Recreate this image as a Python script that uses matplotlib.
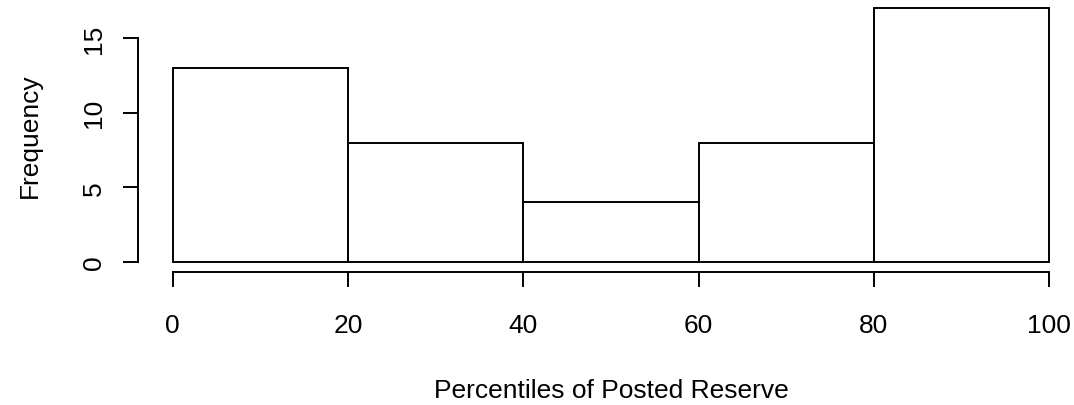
import numpy as np
import matplotlib.pyplot as plt

plt.rcParams['font.family'] = ['Liberation Sans', 'DejaVu Sans']

# histogram data
bin_edges = [0, 20, 40, 60, 80, 100]
counts = [13, 8, 4, 8, 17]
x_ticks = [0, 20, 40, 60, 80, 100]
y_ticks = [0, 5, 10, 15]

W, H = 1074, 406
fig = plt.figure(figsize=(W / 100, H / 100), dpi=100)
# R-style axes: usr range extends 4% past the data (right edge runs off the figure)
left, right, bottom, top = 137.6, 1084.4, 273.2, -1.0
ax = fig.add_axes([left / W, (H - bottom) / H, (right - left) / W, (bottom - top) / H])

ax.bar(bin_edges[:-1], counts, width=np.diff(bin_edges), align="edge",
       facecolor="white", edgecolor="black", linewidth=1.4)

ax.set_xlim(-4, 104)
ax.set_ylim(-0.68, 17.68)

for s in ["top", "right"]:
    ax.spines[s].set_visible(False)
ax.spines["left"].set_bounds(0, 15)
ax.spines["bottom"].set_bounds(0, 100)
for s in ["left", "bottom"]:
    ax.spines[s].set_linewidth(1.4)

ax.set_xticks(x_ticks)
ax.set_yticks(y_ticks)
ax.tick_params(axis="both", length=11, width=1.4, labelsize=19)
ax.tick_params(axis="x", pad=18.5)
ax.tick_params(axis="y", pad=12)
plt.setp(ax.get_yticklabels(), rotation=90, va="center")

ax.set_xlabel("Percentiles of Posted Reserve", fontsize=19, labelpad=29.5)
ax.set_ylabel("Frequency", fontsize=19, labelpad=28.8)

plt.savefig("out.png", dpi=100)
